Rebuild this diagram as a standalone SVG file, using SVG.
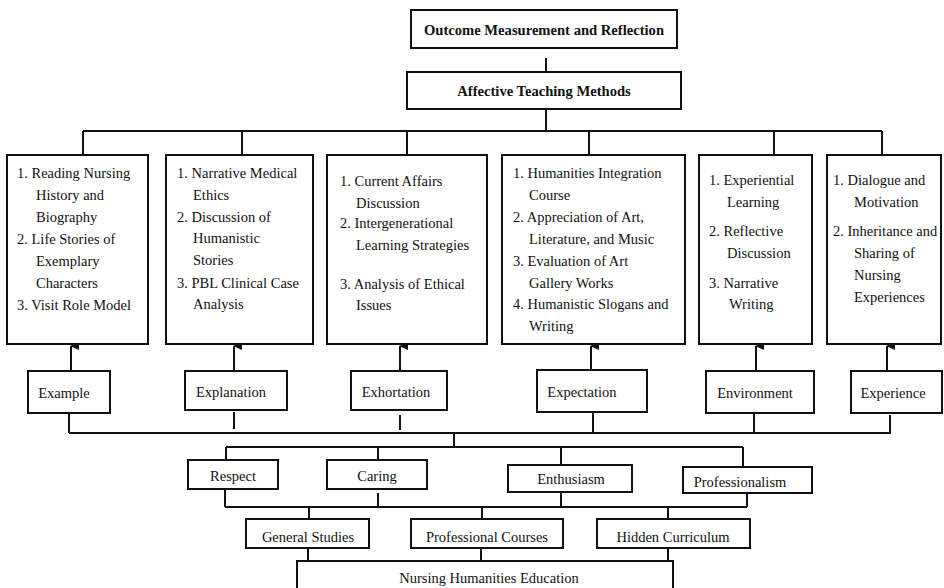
<svg xmlns="http://www.w3.org/2000/svg" width="944" height="588" viewBox="0 0 944 588">
<defs>
<marker id="arr" viewBox="0 0 8 10" refX="4" refY="1" markerWidth="8" markerHeight="10" markerUnits="userSpaceOnUse" orient="auto-start-reverse">
<path d="M0,9 L4,0 L8,9 Z" fill="#111"/>
</marker>
<style>
.box{fill:#fff;stroke:#111;stroke-width:2}
.ln{fill:none;stroke:#111;stroke-width:2}
.t{font-family:"Liberation Serif","Times New Roman",serif;font-size:14.5px;fill:#111}
.c{text-anchor:middle}
.b{font-weight:bold;font-size:14.6px}
</style>
</defs>
<rect width="944" height="588" fill="#fff"/>

<g id="connectors">
<path class="ln" d="M546,58 V72 M546,109 V131 M83,131 H882 M83,131 V155 M242,131 V155 M407,131 V155 M589,131 V155 M774,131 V155 M882,131 V155"/>
<path class="ln" d="M71,371 V346" marker-end="url(#arr)"/>
<path class="ln" d="M234,371 V346" marker-end="url(#arr)"/>
<path class="ln" d="M400,371 V346" marker-end="url(#arr)"/>
<path class="ln" d="M591,370 V346" marker-end="url(#arr)"/>
<path class="ln" d="M756,371 V346" marker-end="url(#arr)"/>
<path class="ln" d="M887,371 V346" marker-end="url(#arr)"/>
<path class="ln" d="M69,413 V433 M234,412 V429 M400,415 V430 M593,412 V433 M754,413 V433 M890,415 V433 M69,433 H891"/>
<path class="ln" d="M454,433 V447 M226,447 H743 M226,447 V460 M378,447 V460 M561,447 V465 M743,447 V467"/>
<path class="ln" d="M225,489 V507 M378,493 V507 M561,492 V507 M747,493 V507 M225,507 H747 M309,507 V519 M482,507 V519 M668,507 V519"/>
<path class="ln" d="M308,548 V561 M481,548 V561 M668,548 V561"/>
</g>

<g id="outcome">
<rect class="box" x="411" y="10" width="266" height="38"/>
<text class="t c b" x="544" y="35">Outcome Measurement and Reflection</text>
</g>
<g id="affective">
<rect class="box" x="407" y="72" width="274" height="37"/>
<text class="t c b" x="544" y="96">Affective Teaching Methods</text>
</g>

<g id="methods-example">
<rect class="box" x="7" y="155" width="141" height="189"/>
<text class="t" x="17" y="178">1. Reading Nursing</text>
<text class="t" x="36" y="200">History and</text>
<text class="t" x="36" y="222">Biography</text>
<text class="t" x="17" y="244">2. Life Stories of</text>
<text class="t" x="36" y="266">Exemplary</text>
<text class="t" x="36" y="288">Characters</text>
<text class="t" x="17" y="310">3. Visit Role Model</text>
</g>
<g id="methods-explanation">
<rect class="box" x="166" y="155" width="147" height="189"/>
<text class="t" x="177" y="178">1. Narrative Medical</text>
<text class="t" x="193" y="200">Ethics</text>
<text class="t" x="177" y="222">2. Discussion of</text>
<text class="t" x="193" y="243">Humanistic</text>
<text class="t" x="193" y="265">Stories</text>
<text class="t" x="177" y="288">3. PBL Clinical Case</text>
<text class="t" x="193" y="309">Analysis</text>
</g>
<g id="methods-exhortation">
<rect class="box" x="327" y="155" width="160" height="189"/>
<text class="t" x="340" y="186">1. Current Affairs</text>
<text class="t" x="356" y="208">Discussion</text>
<text class="t" x="340" y="228">2. Intergenerational</text>
<text class="t" x="356" y="250">Learning Strategies</text>
<text class="t" x="340" y="289">3. Analysis of Ethical</text>
<text class="t" x="356" y="310">Issues</text>
</g>
<g id="methods-expectation">
<rect class="box" x="502" y="155" width="183" height="189"/>
<text class="t" x="513" y="178">1. Humanities Integration</text>
<text class="t" x="529" y="200">Course</text>
<text class="t" x="513" y="222">2. Appreciation of Art,</text>
<text class="t" x="529" y="244">Literature, and Music</text>
<text class="t" x="513" y="266">3. Evaluation of Art</text>
<text class="t" x="529" y="288">Gallery Works</text>
<text class="t" x="513" y="309">4. Humanistic Slogans and</text>
<text class="t" x="529" y="331">Writing</text>
</g>
<g id="methods-environment">
<rect class="box" x="699" y="155" width="113" height="189"/>
<text class="t" x="709" y="185">1. Experiential</text>
<text class="t" x="727" y="207">Learning</text>
<text class="t" x="709" y="236">2. Reflective</text>
<text class="t" x="727" y="258">Discussion</text>
<text class="t" x="709" y="288">3. Narrative</text>
<text class="t" x="729" y="309">Writing</text>
</g>
<g id="methods-experience">
<rect class="box" x="827" y="155" width="114" height="189"/>
<text class="t" x="833" y="185">1. Dialogue and</text>
<text class="t" x="854" y="207">Motivation</text>
<text class="t" x="833" y="236">2. Inheritance and</text>
<text class="t" x="854" y="258">Sharing of</text>
<text class="t" x="854" y="280">Nursing</text>
<text class="t" x="854" y="302">Experiences</text>
</g>

<g id="example">
<rect class="box" x="28" y="371" width="82" height="42"/>
<text class="t c" x="64" y="398">Example</text>
</g>
<g id="explanation">
<rect class="box" x="185" y="371" width="102" height="39"/>
<text class="t c" x="231" y="397">Explanation</text>
</g>
<g id="exhortation">
<rect class="box" x="351" y="371" width="96" height="39"/>
<text class="t c" x="396" y="397">Exhortation</text>
</g>
<g id="expectation">
<rect class="box" x="537" y="370" width="110" height="42"/>
<text class="t c" x="582" y="397">Expectation</text>
</g>
<g id="environment">
<rect class="box" x="706" y="371" width="108" height="42"/>
<text class="t c" x="755" y="398">Environment</text>
</g>
<g id="experience">
<rect class="box" x="851" y="371" width="91" height="42"/>
<text class="t c" x="893" y="398">Experience</text>
</g>

<g id="respect">
<rect class="box" x="188" y="460" width="90" height="29"/>
<text class="t c" x="233" y="481">Respect</text>
</g>
<g id="caring">
<rect class="box" x="327" y="460" width="100" height="29"/>
<text class="t c" x="377" y="481">Caring</text>
</g>
<g id="enthusiasm">
<rect class="box" x="508" y="465" width="124" height="27"/>
<text class="t c" x="571" y="484">Enthusiasm</text>
</g>
<g id="professionalism">
<rect class="box" x="683" y="467" width="129" height="26"/>
<text class="t c" x="740" y="487">Professionalism</text>
</g>

<g id="general-studies">
<rect class="box" x="246" y="519" width="123" height="29"/>
<text class="t c" x="308" y="542">General Studies</text>
</g>
<g id="professional-courses">
<rect class="box" x="411" y="519" width="152" height="29"/>
<text class="t c" x="487" y="542">Professional Courses</text>
</g>
<g id="hidden-curriculum">
<rect class="box" x="597" y="519" width="153" height="29"/>
<text class="t c" x="673" y="542">Hidden Curriculum</text>
</g>

<g id="nursing-humanities-education">
<rect class="box" x="297" y="561" width="376" height="40"/>
<text class="t c" x="489" y="583">Nursing Humanities Education</text>
</g>
</svg>
